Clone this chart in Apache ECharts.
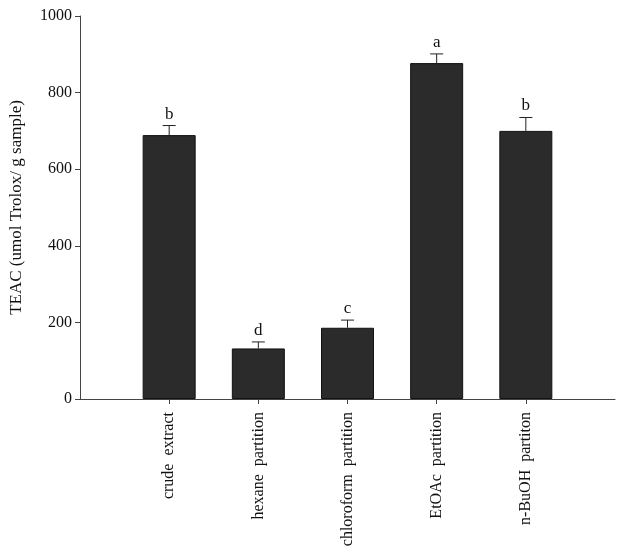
<!DOCTYPE html>
<html>
<head>
<meta charset="utf-8">
<script src="https://cdn.jsdelivr.net/npm/echarts@6/dist/echarts.min.js"></script>
<style>html,body{margin:0;padding:0;background:#fff}#c{width:624px;height:552px}</style>
</head>
<body>
<div id="c"></div>
<script>
var categories = ['crude  extract', 'hexane  partition', 'chloroform  partition', 'EtOAc  partition', 'n-BuOH  partiton'];
var values = [689, 132, 186, 877, 700];
var errors = [25, 17, 20, 24, 35];
var letters = ['b', 'd', 'c', 'a', 'b'];
var yTicks = [0, 200, 400, 600, 800, 1000];

var FONT = '"Liberation Serif", "DejaVu Serif", serif';
var axisCats = [''].concat(categories, ['']);
var barData = ['-'].concat(values, ['-']);
var errData = categories.map(function (c, i) { return [i + 1, values[i], errors[i], letters[i]]; });

var chart = echarts.init(document.getElementById('c'), null, {renderer: 'canvas'});
chart.setOption({
  animation: false,
  backgroundColor: '#fff',
  grid: {left: 80, right: 9, top: 16, bottom: 153, containLabel: false},
  xAxis: {
    type: 'category',
    data: axisCats,
    boundaryGap: false,
    axisLine: {show: true, lineStyle: {color: '#444', width: 1}},
    axisTick: {show: true, length: 5, lineStyle: {color: '#444'},
      interval: function (i) { return i > 0 && i < axisCats.length - 1; }},
    axisLabel: {rotate: 90, margin: 13, color: '#111', fontFamily: FONT, fontSize: 16,
      interval: 0},
    splitLine: {show: false}
  },
  yAxis: {
    type: 'value',
    min: yTicks[0], max: yTicks[yTicks.length - 1], interval: 200,
    name: 'TEAC (umol Trolox/ g sample)',
    nameLocation: 'middle',
    nameGap: 55,
    nameTextStyle: {fontFamily: FONT, fontSize: 17, color: '#111'},
    axisLine: {show: true, lineStyle: {color: '#444', width: 1}},
    axisTick: {show: true, length: 5, inside: false, lineStyle: {color: '#444'}},
    axisLabel: {color: '#111', fontFamily: FONT, fontSize: 16, margin: 8,
      formatter: function (v) { return String(v); }},
    splitLine: {show: false}
  },
  series: [
    {
      type: 'bar',
      data: barData,
      barWidth: 53,
      itemStyle: {color: '#2b2b2b', borderColor: '#111', borderWidth: 1}
    },
    {
      type: 'custom',
      data: errData,
      z: 5,
      renderItem: function (params, api) {
        var x = api.value(0), v = api.value(1), e = api.value(2);
        var lt = errData[params.dataIndex][3];
        var p0 = api.coord([x, v]);
        var p1 = api.coord([x, v + e]);
        var hw = 6.5;
        return {
          type: 'group',
          children: [
            {type: 'line', shape: {x1: p0[0], y1: p0[1], x2: p1[0], y2: p1[1]}, style: {stroke: '#222', lineWidth: 1}},
            {type: 'line', shape: {x1: p1[0] - hw, y1: p1[1], x2: p1[0] + hw, y2: p1[1]}, style: {stroke: '#222', lineWidth: 1}},
            {type: 'text', x: p1[0], y: p1[1] - 3, style: {text: lt, fill: '#111', font: '17px ' + FONT, textAlign: 'center', textVerticalAlign: 'bottom'}}
          ]
        };
      }
    }
  ]
});
</script>
</body>
</html>
